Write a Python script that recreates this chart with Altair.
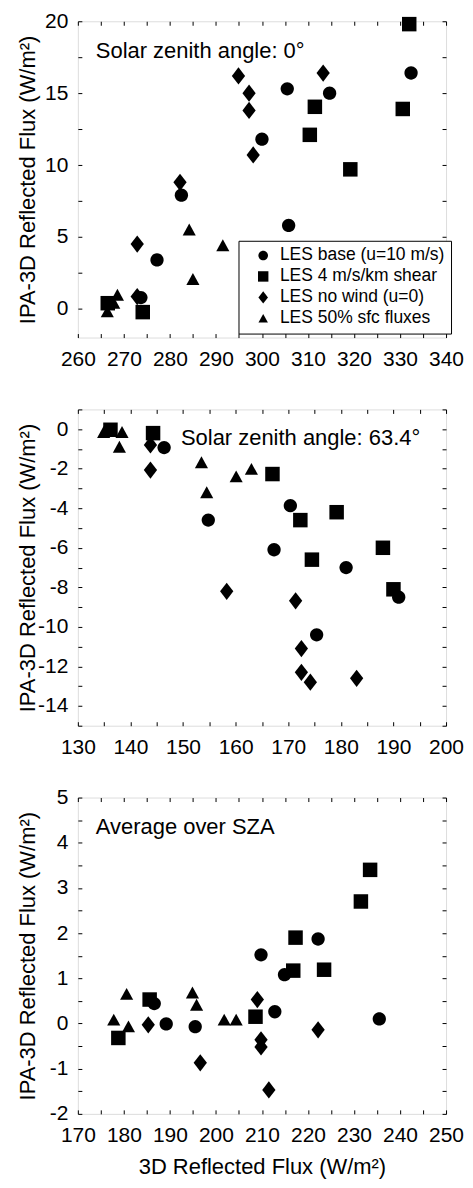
import altair as alt
import pandas as pd

FONT = "Liberation Sans"
W, H = 369, 317
GAP = 72
X_TITLE_OFFSET = 60

SERIES = ["LES base (u=10 m/s)", "LES 4 m/s/km shear", "LES no wind (u=0)", "LES 50% sfc fluxes"]
SHAPES = [
    "M0.77,0A0.77,0.77,0,1,1,-0.77,0A0.77,0.77,0,1,1,0.77,0Z",
    "M-0.84,-0.84L0.84,-0.84L0.84,0.84L-0.84,0.84Z",
    "M0,-1L0.77,0L0,1L-0.77,0Z",
    "M0,-0.72L0.76,0.66L-0.76,0.66Z",
]

# ---- Panel 1: SZA 0
p1_base_x = [273.7, 277.2, 282.5, 300.0, 305.5, 305.8, 314.7, 332.4]
p1_base_y = [0.78, 3.4, 7.9, 11.8, 15.3, 5.8, 15.0, 16.4]
p1_shear_x = [266.5, 274.1, 310.4, 311.5, 319.2, 330.6, 332.0]
p1_shear_y = [0.39, -0.23, 12.1, 14.05, 9.7, 13.9, 19.8]
p1_nowind_x = [272.9, 272.9, 282.2, 294.9, 297.2, 297.2, 298.1, 313.3]
p1_nowind_y = [4.5, 0.85, 8.8, 16.2, 15.0, 13.8, 10.7, 16.4]
p1_sfc_x = [266.4, 267.8, 268.6, 284.2, 285.0, 291.5]
p1_sfc_y = [-0.2, 0.4, 0.96, 5.5, 2.06, 4.4]

# ---- Panel 2: SZA 63.4
p2_base_x = [146.4, 154.8, 167.3, 170.4, 175.4, 181.0, 191.0]
p2_base_y = [-0.93, -4.6, -6.1, -3.87, -10.4, -7.0, -8.5]
p2_shear_x = [136.2, 144.3, 167.0, 172.3, 174.5, 179.2, 188.0, 190.0]
p2_shear_y = [-0.03, -0.2, -2.27, -4.6, -6.6, -4.2, -6.0, -8.1]
p2_nowind_x = [143.8, 143.8, 158.3, 171.4, 172.5, 172.5, 174.2, 183.0]
p2_nowind_y = [-0.8, -2.07, -8.2, -8.68, -11.1, -12.3, -12.8, -12.6]
p2_sfc_x = [134.9, 138.4, 137.9, 153.5, 154.5, 160.1, 163.0]
p2_sfc_y = [-0.16, -0.16, -0.9, -1.69, -3.2, -2.4, -2.02]

# ---- Panel 3: average over SZA
p3_base_x = [186.6, 189.2, 195.5, 209.8, 212.8, 214.9, 222.2, 235.5]
p3_base_y = [0.44, -0.01, -0.07, 1.52, 0.26, 1.08, 1.87, 0.1]
p3_shear_x = [178.8, 185.6, 208.6, 216.8, 217.3, 223.5, 231.5, 233.5]
p3_shear_y = [-0.32, 0.53, 0.15, 1.17, 1.9, 1.19, 2.7, 3.4]
p3_nowind_x = [185.3, 196.6, 209.0, 209.8, 209.8, 211.5, 222.2]
p3_nowind_y = [-0.03, -0.87, 0.53, -0.36, -0.52, -1.47, -0.14]
p3_sfc_x = [177.8, 180.6, 181.0, 194.9, 195.8, 201.8, 204.4]
p3_sfc_y = [0.08, 0.65, -0.07, 0.68, 0.41, 0.08, 0.08]

# axis ranges, tick labels and minor ticks
p1_xdom, p1_ydom = [260, 340], [-2, 20]
p1_xlabels = [260, 270, 280, 290, 300, 310, 320, 330, 340]
p1_xticks = [260, 265, 270, 275, 280, 285, 290, 295, 300, 305, 310, 315, 320, 325, 330, 335, 340]
p1_ylabels = [0, 5, 10, 15, 20]
p1_yticks = [0, 2.5, 5, 7.5, 10, 12.5, 15, 17.5, 20]

p2_xdom, p2_ydom = [130, 200], [-15, 1]
p2_xlabels = [130, 140, 150, 160, 170, 180, 190, 200]
p2_xticks = [130, 135, 140, 145, 150, 155, 160, 165, 170, 175, 180, 185, 190, 195, 200]
p2_ylabels = [-14, -12, -10, -8, -6, -4, -2, 0]
p2_yticks = [-15, -14, -13, -12, -11, -10, -9, -8, -7, -6, -5, -4, -3, -2, -1, 0, 1]

p3_xdom, p3_ydom = [170, 250], [-2, 5]
p3_xlabels = [170, 180, 190, 200, 210, 220, 230, 240, 250]
p3_xticks = [170, 175, 180, 185, 190, 195, 200, 205, 210, 215, 220, 225, 230, 235, 240, 245, 250]
p3_ylabels = [-2, -1, 0, 1, 2, 3, 4, 5]
p3_yticks = [-2, -1.5, -1, -0.5, 0, 0.5, 1, 1.5, 2, 2.5, 3, 3.5, 4, 4.5, 5]

notes = ["Solar zenith angle: 0°", "Solar zenith angle: 63.4°", "Average over SZA"]
note_x = [263.9, 149.6, 173.9]
note_y = [17.45, -0.82, 4.19]

Y_TITLE = "IPA-3D Reflected Flux (W/m²)"
X_TITLE = "3D Reflected Flux (W/m²)"


def make_df(xs, ys):
    rows = []
    for name, xv, yv in zip(SERIES, xs, ys):
        for a, b in zip(xv, yv):
            rows.append({"x": a, "y": b, "series": name})
    return pd.DataFrame(rows)


def tick_axis(orient, values):
    return alt.Axis(orient=orient, values=values, labels=False, domain=False, grid=False,
                    ticks=True, tickSize=4, offset=-4, tickColor="black", tickWidth=1,
                    title=None)


def panel(df, xdom, ydom, xlab, xtick, ylab, ytick, idx, legend, xtitle):
    xs = alt.Scale(domain=xdom, nice=False, zero=False)
    ys = alt.Scale(domain=ydom, nice=False, zero=False)
    xaxis_kw = dict(orient="bottom", values=xlab, ticks=False, tickSize=0, domain=False, grid=False,
                    labelPadding=11, labelFontSize=21, labelFont=FONT, labelColor="black",
                    labelFlush=False, labelOverlap=False, labelExpr="'' + datum.value")
    if xtitle:
        xaxis_kw.update(title=xtitle, titleY=X_TITLE_OFFSET, titleBaseline="alphabetic",
                        titleFontSize=22, titleFont=FONT, titleFontWeight="normal",
                        titleColor="black")
    else:
        xaxis_kw.update(title=None)
    yaxis = alt.Axis(orient="left", values=ylab, ticks=False, tickSize=0, domain=False, grid=False,
                     labelPadding=10, labelFontSize=21, labelFont=FONT, labelColor="black",
                     labelFlush=False, labelOverlap=False, labelExpr="'' + datum.value",
                     title=Y_TITLE, titleX=-50, titleY=H / 2, titleBaseline="middle",
                     titleAlign="center", titleAngle=270, titleFontSize=22, titleFont=FONT,
                     titleFontWeight="normal", titleColor="black")
    if legend:
        leg = alt.Legend(orient="none", legendX=161, legendY=H - 97, title=None,
                         strokeColor="black", fillColor="white", padding=6, symbolOffset=10,
                         labelOffset=8, rowPadding=2, labelFontSize=17.5, labelFont=FONT,
                         labelColor="black", labelLimit=400, symbolSize=155,
                         symbolFillColor="black", symbolStrokeWidth=0, cornerRadius=0)
    else:
        leg = None
    pts = alt.Chart(df).mark_point(filled=True, size=299, opacity=1, color="black",
                                   strokeWidth=0).encode(
        x=alt.X("x:Q", scale=xs, axis=alt.Axis(**xaxis_kw)),
        y=alt.Y("y:Q", scale=ys, axis=yaxis),
        shape=alt.Shape("series:N", scale=alt.Scale(domain=SERIES, range=SHAPES), legend=leg),
    )
    note_df = pd.DataFrame({"nx": [note_x[idx]], "ny": [note_y[idx]], "label": [notes[idx]]})
    note = alt.Chart(note_df).mark_text(align="left", baseline="alphabetic", font=FONT,
                                         fontSize=22, color="black").encode(
        x=alt.X("nx:Q", scale=xs, axis=tick_axis("bottom", xtick)),
        y=alt.Y("ny:Q", scale=ys, axis=tick_axis("left", ytick)),
        text="label:N",
    )
    ghost = alt.Chart(df).mark_point(opacity=0).encode(
        x=alt.X("x:Q", scale=xs, axis=tick_axis("top", xtick)),
        y=alt.Y("y:Q", scale=ys, axis=tick_axis("right", ytick)),
    )
    return alt.layer(pts, note, ghost).resolve_axis(x="independent", y="independent").properties(
        width=W, height=H)


df1 = make_df([p1_base_x, p1_shear_x, p1_nowind_x, p1_sfc_x], [p1_base_y, p1_shear_y, p1_nowind_y, p1_sfc_y])
df2 = make_df([p2_base_x, p2_shear_x, p2_nowind_x, p2_sfc_x], [p2_base_y, p2_shear_y, p2_nowind_y, p2_sfc_y])
df3 = make_df([p3_base_x, p3_shear_x, p3_nowind_x, p3_sfc_x], [p3_base_y, p3_shear_y, p3_nowind_y, p3_sfc_y])

c1 = panel(df1, p1_xdom, p1_ydom, p1_xlabels, p1_xticks, p1_ylabels, p1_yticks, 0, True, None)
c2 = panel(df2, p2_xdom, p2_ydom, p2_xlabels, p2_xticks, p2_ylabels, p2_yticks, 1, False, None)
c3 = panel(df3, p3_xdom, p3_ydom, p3_xlabels, p3_xticks, p3_ylabels, p3_yticks, 2, False, X_TITLE)

chart = alt.vconcat(c1, c2, c3, spacing=GAP, bounds="flush").resolve_legend(
    shape="independent").resolve_scale(shape="independent").properties(
    padding={"left": 8, "top": 0, "right": 0, "bottom": 0}
).configure_view(stroke="black", strokeWidth=1).configure(font=FONT)

chart.save("out.html", embed_options={"renderer": "svg", "actions": False})
